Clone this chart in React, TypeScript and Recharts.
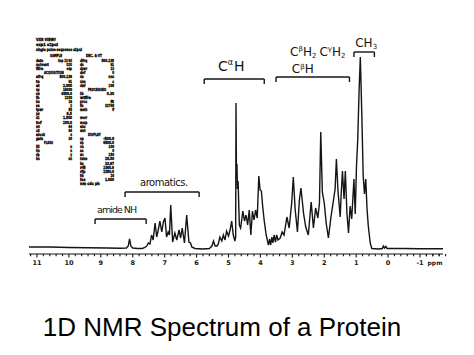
import React from 'react'
import { LineChart, Line, XAxis, YAxis, ReferenceLine } from 'recharts'

/* ── spectrum, read off the scan ─────────────────────────── */

const SHIFT_PPM = [
  11.25, 10.6, 10.0, 9.4, 8.8, 8.4, 8.2, 8.14, 8.1, 8.06, 8.0, 7.85, 7.7, 7.62, 7.56, 7.51, 7.46, 7.41,
  7.36, 7.3, 7.25, 7.2, 7.15, 7.09, 7.04, 6.99, 6.94, 6.89, 6.85, 6.81, 6.75, 6.68, 6.62, 6.55, 6.5,
  6.45, 6.38, 6.31, 6.24, 6.19, 6.15, 6.05, 5.8, 5.6, 5.52, 5.47, 5.42, 5.36, 5.32, 5.27, 5.21, 5.16,
  5.11, 5.06, 5.0, 4.95, 4.9, 4.85, 4.8, 4.775, 4.765, 4.75, 4.735, 4.72, 4.7, 4.66, 4.62, 4.55, 4.5,
  4.45, 4.4, 4.35, 4.3, 4.25, 4.2, 4.15, 4.1, 4.05, 4.01, 3.97, 3.93, 3.88, 3.82, 3.75, 3.71, 3.68,
  3.64, 3.61, 3.57, 3.53, 3.49, 3.45, 3.38, 3.32, 3.26, 3.17, 3.1, 3.02, 2.97, 2.91, 2.84, 2.78, 2.73,
  2.65, 2.58, 2.5, 2.41, 2.34, 2.27, 2.2, 2.15, 2.11, 2.06, 2.0, 1.94, 1.87, 1.79, 1.71, 1.66, 1.62,
  1.57, 1.5, 1.47, 1.43, 1.38, 1.34, 1.29, 1.24, 1.19, 1.14, 1.07, 1.03, 0.99, 0.95, 0.91, 0.87, 0.82,
  0.78, 0.74, 0.7, 0.66, 0.62, 0.56, 0.51, 0.3, 0.18, 0.15, 0.11, 0.07, 0.03, -0.5, -1.0, -1.72,
]

const INTENSITY = [
  2, 2, 1.5, 1.2, 1, 0.8, 1, 3, 10, 3, 1, 0.5, 0.5, 1.5, 3, 6, 5, 14,
  9, 26, 12, 19, 28, 17, 27, 31, 12, 17, 14, 44, 7, 16, 9, 19, 11,
  21, 6, 34, 7, 6, 2, 0.5, 0, 0.5, 3, 8, 3, 3, 5, 12, 8, 14,
  9, 18, 13, 19, 28, 14, 8, 12, 146, 70, 85, 60, 68, 24, 21, 38, 28,
  34, 24, 39, 14, 38, 29, 39, 31, 73, 59, 58, 43, 28, 14, 4, 10, 4,
  12, 6, 14, 7, 14, 9, 11, 17, 14, 32, 21, 46, 72, 39, 17, 49, 61,
  36, 22, 14, 47, 21, 41, 31, 46, 117, 57, 46, 26, 11, 32, 49, 60, 90,
  58, 32, 55, 78, 50, 78, 36, 16, 43, 30, 70, 35, 83, 110, 157, 192, 130,
  73, 55, 70, 40, 23, 6, 0.5, 0, 0.5, 3, 1, 2.5, 0.5, 0.5, 0.3, 0.3,
]

const spectrum = SHIFT_PPM.map((ppm, i) => ({ ppm, y: INTENSITY[i] }))

/* ── axis ────────────────────────────────────────────────── */

const MAJOR_TICKS = [11, 10, 9, 8, 7, 6, 5, 4, 3, 2, 1, 0, -1]
const ALL_TICKS: number[] = [11.2]
MAJOR_TICKS.forEach((m) => {
  for (let k = 0; k < 5; k++) ALL_TICKS.push(Math.round((m - k * 0.2) * 10) / 10)
})
ALL_TICKS.push(-1.2, -1.4, -1.6)

/* ── hand-written assignments ────────────────────────────── */

const BRACKET_FROM = [9.18, 8.24, 5.76, 3.51, 1.07]
const BRACKET_TO = [7.58, 5.92, 3.88, 1.21, 0.43]
const BRACKET_LEVEL = [30, 57, 170, 172, 197]

/* ── parameter printout (top left of the scan) ───────────── */

const HEADER_LINES = ['VXR VIEW?', 'exp1  s2pul', 'single pulse sequence  s2pul']
const LEFT_ROWS = [
  ['date', 'Sep 23 93'], ['solvent', 'D2O'], ['file', 'exp'], ['ACQUISITION', ''],
  ['sfrq', '500.138'], ['tn', 'H1'], ['at', '2.000'], ['np', '16000'], ['sw', '4000.0'],
  ['fb', '2200'], ['bs', '16'], ['ss', '2'], ['tpwr', '55'], ['pw', '6.5'], ['d1', '1.500'],
  ['tof', '200.0'], ['nt', '64'], ['ct', '64'], ['alock', 'n'], ['gain', '30'],
  ['FLAGS', ''], ['il', 'n'], ['in', 'n'], ['dp', 'y'], ['hs', 'nn'],
]
const RIGHT_ROWS = [
  ['dfrq', '500.138'], ['dn', 'H1'], ['dpwr', '13'], ['dof', '0'], ['dm', 'nnn'], ['dmm', 'c'],
  ['dmf', '200'], ['PROCESSING', ''], ['lb', '0.30'], ['wtfile', ''], ['proc', 'ft'],
  ['fn', '32768'], ['math', 'f'], ['', ''], ['werr', ''], ['wexp', ''], ['wbs', ''], ['wnt', ''],
  ['DISPLAY', ''], ['sp', '-500.0'], ['wp', '6500.0'], ['vs', '100'], ['sc', '0'], ['wc', '250'],
  ['hzmm', '26.00'], ['is', '33.97'], ['rfl', '2360.6'], ['rfp', '2350.0'], ['th', '20'],
  ['ins', '1.000'], ['nm  cdc  ph', ''],
]

const INK = '#141414'
const HAND = '"DejaVu Sans", sans-serif'

function PpmTick(props: any) {
  const { x, y, payload } = props
  const v = payload.value as number
  const major = Math.abs(v - Math.round(v)) < 1e-6
  return (
    <g>
      <line x1={x} x2={x} y1={y} y2={y + (major ? 3.5 : 2.2)} stroke={INK} strokeWidth={1.1} />
      {major ? (
        <text x={x} y={y + 11} textAnchor="middle" fontSize={6.5} fontWeight={700}
          fontFamily='"DejaVu Sans", sans-serif' fill={INK}>
          {v}
        </text>
      ) : null}
    </g>
  )
}

function bracketLabel(i: number) {
  return (p: any) => {
    const vb = p.viewBox || {}
    const cx = vb.x + vb.width / 2
    const y = vb.y
    const txt = { fontFamily: HAND, fill: INK } as const
    if (i === 0)
      return <text x={cx - 3.5} y={y - 6} textAnchor="middle" fontSize={9.5} textLength={40} {...txt}>amide NH</text>
    if (i === 1)
      return <text x={cx + 2} y={y - 6.5} textAnchor="middle" fontSize={10} textLength={48} {...txt}>aromatics.</text>
    if (i === 2)
      return (
        <text x={cx - 3} y={y - 8} textAnchor="middle" fontSize={14} {...txt}>
          C<tspan dy={-6} fontSize={8}>α</tspan><tspan dy={6} dx={1}>H</tspan>
        </text>
      )
    if (i === 3)
      return (
        <g>
          <text x={cx + 5} y={y - 21} textAnchor="middle" fontSize={12} {...txt}>
            C<tspan dy={-5} fontSize={7}>β</tspan><tspan dy={5}>H</tspan><tspan dy={1.5} fontSize={7}>2</tspan>
            <tspan dy={-1.5} dx={3}>C</tspan><tspan dy={-5} fontSize={7}>γ</tspan><tspan dy={5}>H</tspan>
            <tspan dy={1.5} fontSize={7}>2</tspan>
          </text>
          <text x={cx - 10} y={y - 4} textAnchor="middle" fontSize={12} {...txt}>
            C<tspan dy={-4} fontSize={7}>β</tspan><tspan dy={4}>H</tspan>
          </text>
        </g>
      )
    return (
      <text x={cx + 2} y={y - 5} textAnchor="middle" fontSize={12} {...txt}>
        CH<tspan dy={2} fontSize={7}>3</tspan>
      </text>
    )
  }
}

function Printout() {
  const step = 4.1
  const top = 62
  const small = {
    fontFamily: '"DejaVu Sans Condensed", "DejaVu Sans", sans-serif',
    fontWeight: 700,
    fontSize: 4.2,
    fill: '#000',
    stroke: '#000',
    strokeWidth: 0.35,
  } as const
  return (
    <g>
      {HEADER_LINES.map((t, i) => (
        <text key={t} x={36} y={41 + i * 5} {...small} textLength={[20, 22, 46][i]} lengthAdjust="spacingAndGlyphs">{t}</text>
      ))}
      <text x={50} y={57} {...small} textLength={12} lengthAdjust="spacingAndGlyphs">SAMPLE</text>
      <text x={86} y={57} {...small} textLength={16} lengthAdjust="spacingAndGlyphs">DEC. & VT</text>
      {LEFT_ROWS.map(([n, v], i) => (
        <g key={'l' + i}>
          <text x={n === n.toUpperCase() && n.length > 3 ? 44 : 36} y={top + i * step} {...small}
            textLength={Math.min(n.length * 1.8, 20)} lengthAdjust="spacingAndGlyphs">{n}</text>
          {v ? (
            <text x={72} y={top + i * step} textAnchor="end" {...small}
              textLength={Math.min(v.length * 1.8, 14)} lengthAdjust="spacingAndGlyphs">{v}</text>
          ) : null}
        </g>
      ))}
      {RIGHT_ROWS.map(([n, v], i) =>
        n ? (
          <g key={'r' + i}>
            <text x={n === n.toUpperCase() && n.length > 3 ? 88 : 80} y={top + i * step} {...small}
              textLength={Math.min(n.length * 1.8, 22)} lengthAdjust="spacingAndGlyphs">{n}</text>
            {v ? (
              <text x={114} y={top + i * step} textAnchor="end" {...small}
                textLength={Math.min(v.length * 1.8, 14)} lengthAdjust="spacingAndGlyphs">{v}</text>
            ) : null}
          </g>
        ) : null,
      )}
    </g>
  )
}

export default function App() {
  return (
    <div style={{ position: 'absolute', left: 0, top: 0, width: 474, height: 355, background: '#fff' }}>
      <LineChart width={474} height={290} data={spectrum} margin={{ top: 34, right: 31, bottom: 16, left: 29 }}>
        <XAxis
          dataKey="ppm"
          type="number"
          domain={[-1.72, 11.25]}
          reversed
          allowDataOverflow
          ticks={ALL_TICKS}
          interval={0}
          tick={PpmTick}
          tickLine={false}
          tickSize={0}
          tickMargin={0}
          height={20}
          axisLine={{ stroke: INK, strokeWidth: 1.2 }}
          label={(p: any) => {
            const vb = p.viewBox || {}
            return (
              <text x={vb.x + vb.width - 8} y={vb.y + 11} textAnchor="middle" fontSize={6} fontWeight={700}
                fontFamily='"DejaVu Sans", sans-serif' fill={INK}>
                ppm
              </text>
            )
          }}
        />
        <YAxis hide width={0} type="number" domain={[-5, 215]} allowDataOverflow />
        {BRACKET_FROM.map((from, i) => (
          <ReferenceLine key={'h' + i} segment={[{ x: from, y: BRACKET_LEVEL[i] }, { x: BRACKET_TO[i], y: BRACKET_LEVEL[i] }]}
            stroke={INK} strokeWidth={1.4} ifOverflow="visible" label={bracketLabel(i)} />
        ))}
        {BRACKET_FROM.map((from, i) => (
          <ReferenceLine key={'a' + i} segment={[{ x: from, y: BRACKET_LEVEL[i] }, { x: from, y: BRACKET_LEVEL[i] - 5 }]}
            stroke={INK} strokeWidth={1.4} ifOverflow="visible" />
        ))}
        {BRACKET_TO.map((to, i) => (
          <ReferenceLine key={'b' + i} segment={[{ x: to, y: BRACKET_LEVEL[i] }, { x: to, y: BRACKET_LEVEL[i] - 5 }]}
            stroke={INK} strokeWidth={1.4} ifOverflow="visible" />
        ))}
        <Line
          type="linear"
          dataKey="y"
          stroke={INK}
          strokeWidth={1.4}
          dot={false}
          isAnimationActive={false}
          strokeLinejoin="miter"
        />
      </LineChart>
      <svg width={474} height={355} style={{ position: 'absolute', left: 0, top: 0, pointerEvents: 'none' }}>
        <Printout />
        <text x={222} y={336} textAnchor="middle" fontSize={26} fontFamily='"Liberation Sans", Arial, sans-serif' fill="#000">
          1D NMR Spectrum of a Protein
        </text>
      </svg>
    </div>
  )
}
